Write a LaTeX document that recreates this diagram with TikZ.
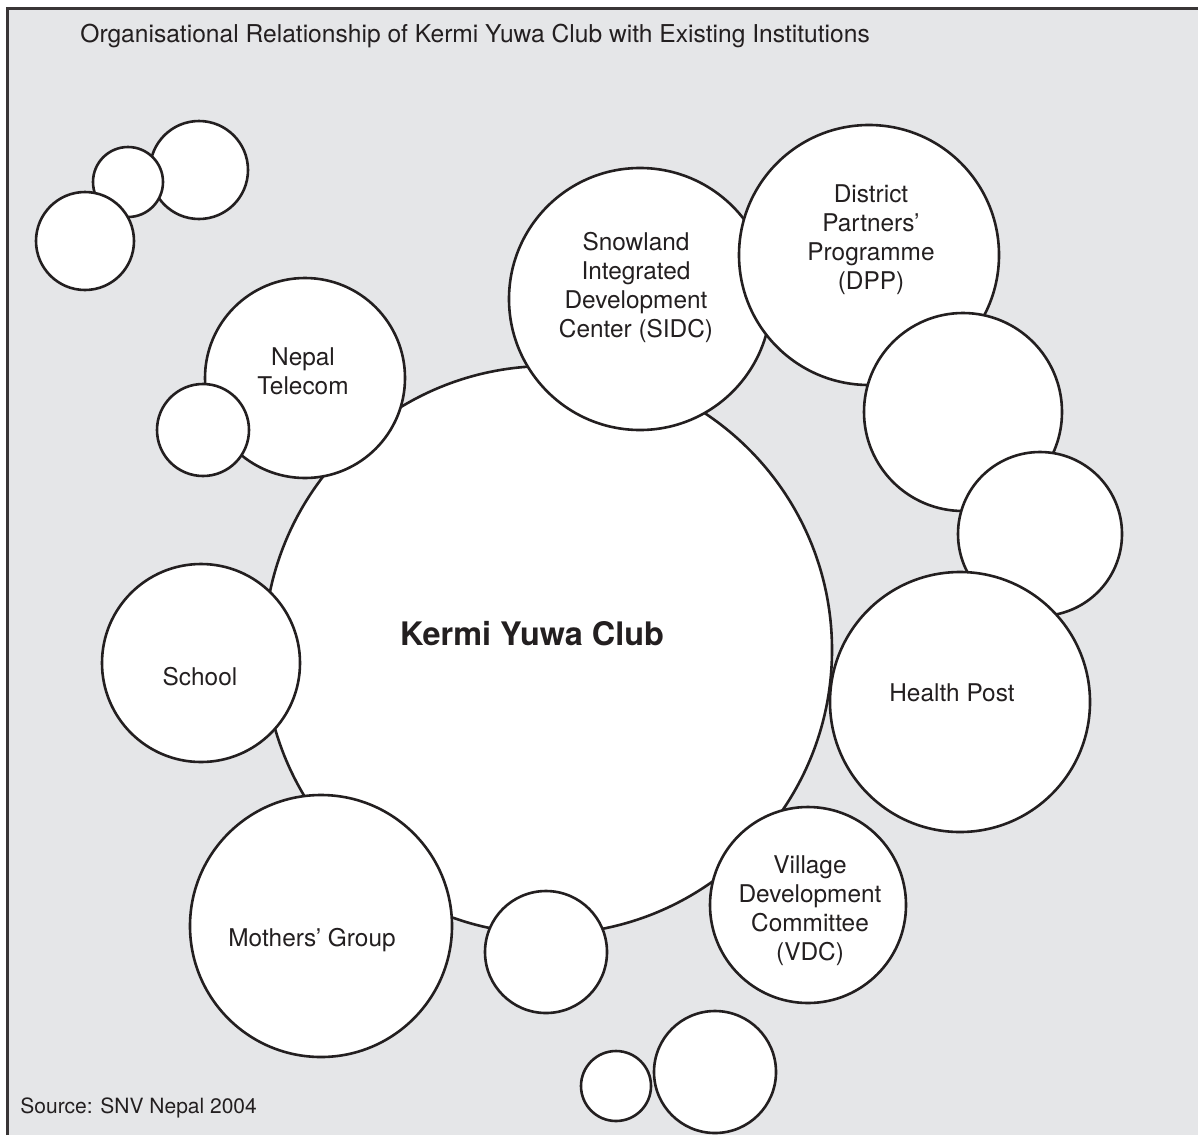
\documentclass[tikz,border=0pt]{standalone}
\usepackage{fontspec}
\setmainfont{TeX Gyre Heros}
\usepackage{tikz}

\definecolor{panel}{RGB}{229,230,232}
\definecolor{ink}{RGB}{35,31,32}

\tikzset{
    bubble/.style={circle, draw=ink, line width=1.3pt, fill=white, inner sep=0pt, minimum size=#1},
    lbl/.style={align=center, text=ink, font=\fontsize{12.2}{14.5}\selectfont},
}

\begin{document}
\begin{tikzpicture}[x=0.5pt,y=-0.5pt]
        \useasboundingbox (0,0) rectangle (1198,1135);
        \fill[panel] (8,9) rectangle (1198,1135);
        \draw[ink!90, line width=1.5pt] (7,1135) -- (7,8) -- (1198,8);
        \node[anchor=base west, inner sep=0pt, text=ink, font=\fontsize{12.3}{14}\selectfont] (title) at (80,42)
            {Organisational Relationship of Kermi Yuwa Club with Existing Institutions};
        \node[anchor=base west, inner sep=0pt, text=ink, font=\fontsize{10.5}{13}\selectfont] (source) at (20,1113)
            {Source: SNV Nepal 2004};
        % loose bubbles, top left
        \foreach \n/\x/\y/\r in {tlb/199/170/49, tla/128/182/35, tlc/85/241/49} {
            \node[bubble=\r pt] (\n) at (\x,\y) {};
        }
        % the club and the ring round it
        \node[bubble=284pt] (club) at (548,650) {};
        \node[bubble=131pt] (sidc) at (640,299) {};
        \node[bubble=130pt] (dpp) at (869,255) {};
        \node[bubble=99pt] (rimA) at (963,412) {};
        \node[bubble=82pt] (rimB) at (1040,534) {};
        \node[bubble=130pt] (health) at (960,702) {};
        \node[bubble=98pt] (vdc) at (808,905) {};
        \node[bubble=61pt] (rimC) at (546,952) {};
        \node[bubble=131pt] (mothers) at (321,926) {};
        \node[bubble=99pt] (school) at (201,663) {};
        \node[bubble=100pt] (telecom) at (305,378) {};
        \node[bubble=46pt] (rimD) at (203,430) {};
        % loose bubbles, bottom
        \node[bubble=35pt] (btma) at (616,1086) {};
        \node[bubble=61pt] (btmb) at (715,1072) {};
        % labels
        \node[lbl, font=\bfseries\fontsize{16.2}{19}\selectfont] (clubtxt) at (532,634) {Kermi Yuwa Club};
        \node[lbl] (sidctxt) at (636,287) {Snowland\\Integrated\\Development\\Center (SIDC)};
        \node[lbl] (dpptxt) at (871,240) {District\\Partners'\\Programme\\(DPP)};
        \node[lbl] (healthtxt) at (952,693) {Health Post};
        \node[lbl] (vdctxt) at (810,911) {Village\\Development\\Committee\\(VDC)};
        \node[lbl] (motherstxt) at (312,940) {Mothers' Group};
        \node[lbl] (schooltxt) at (200,677) {School};
        \node[lbl] (telecomtxt) at (303,371) {Nepal\\Telecom};
\end{tikzpicture}
\end{document}
